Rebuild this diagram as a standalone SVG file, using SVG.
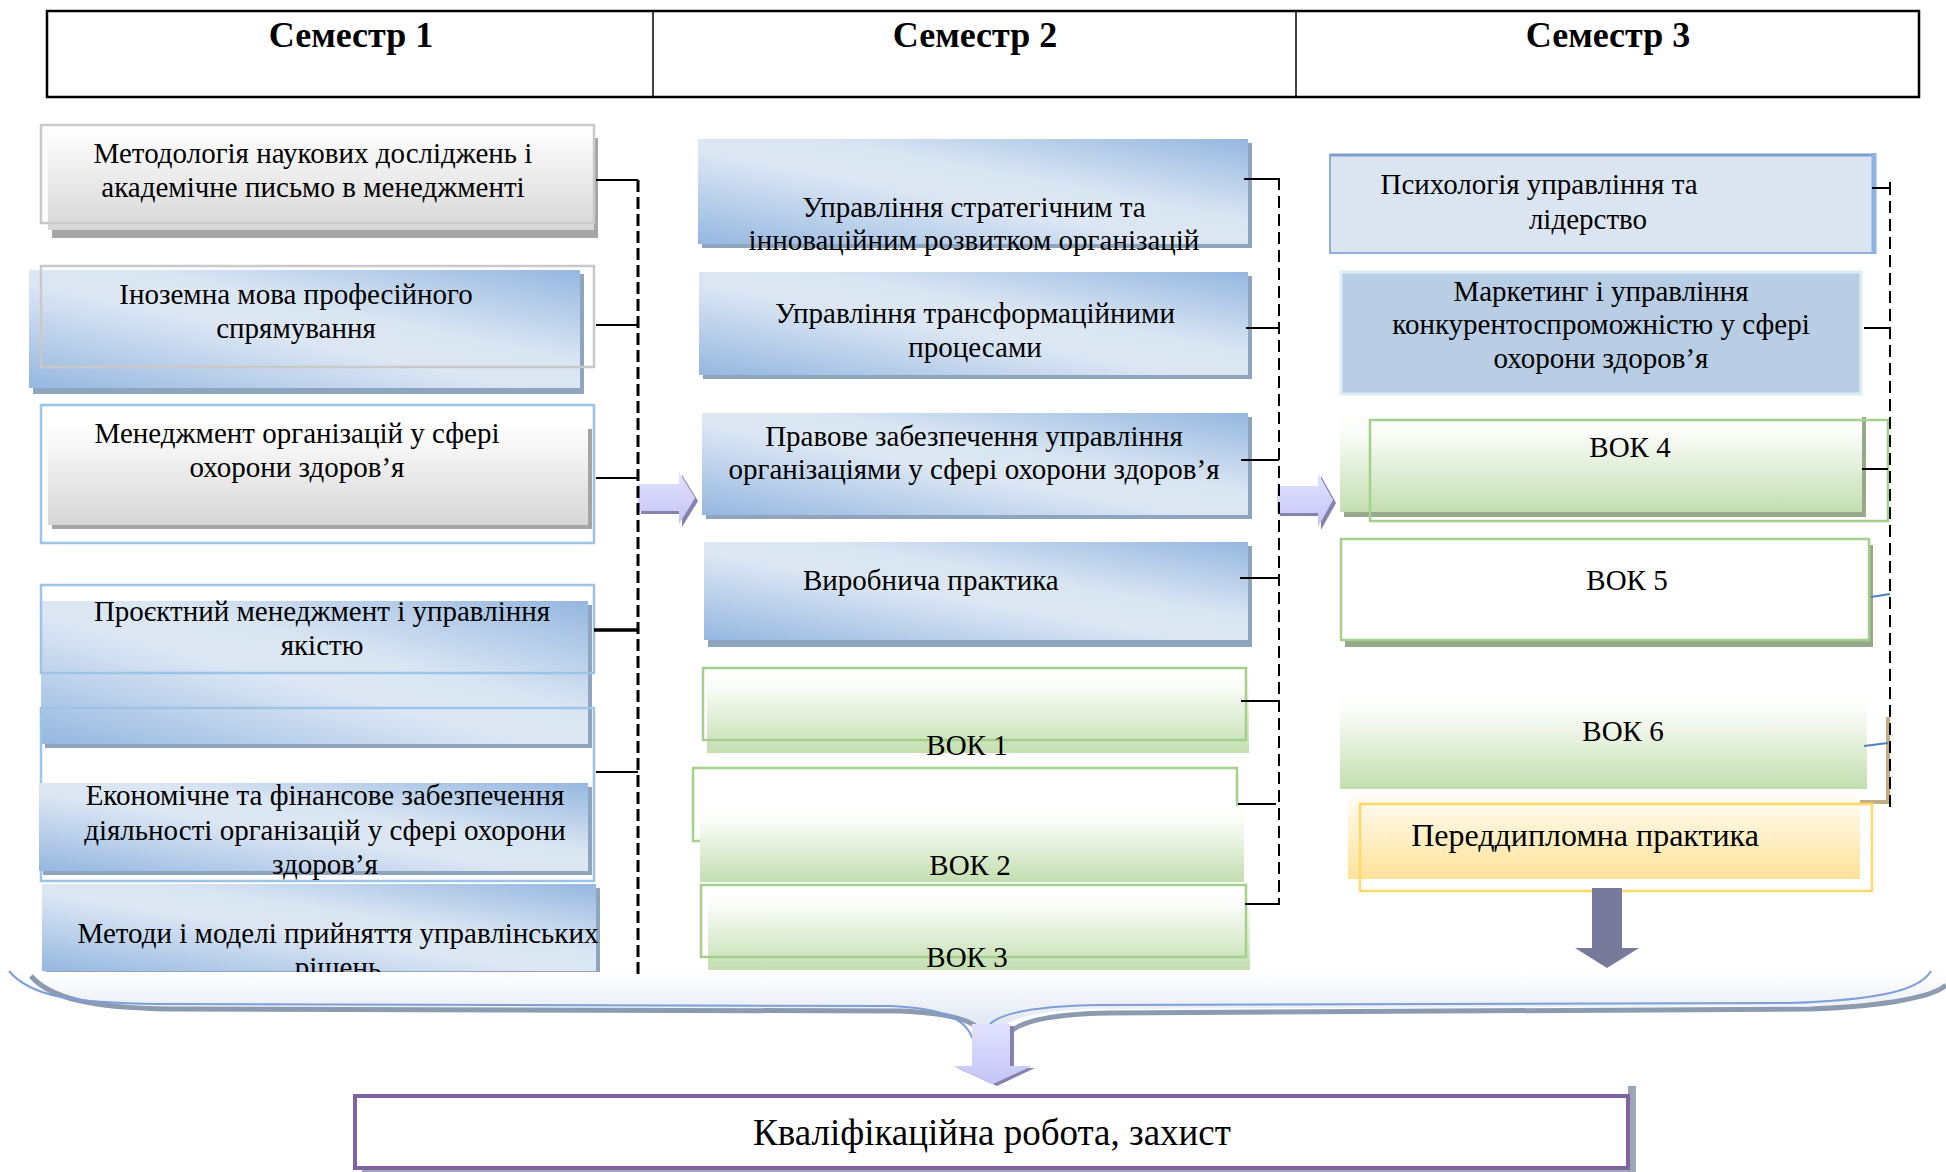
<svg xmlns="http://www.w3.org/2000/svg" width="1946" height="1172" viewBox="0 0 1946 1172">
<defs>
<linearGradient id="gBlue" x1="0" y1="1" x2="1" y2="0">
<stop offset="0" stop-color="#95b7e0"/>
<stop offset="0.45" stop-color="#dde7f4"/>
<stop offset="0.6" stop-color="#dbe6f3"/>
<stop offset="1" stop-color="#95b7e0"/>
</linearGradient>
<linearGradient id="gGray" x1="0" y1="0" x2="0" y2="1">
<stop offset="0" stop-color="#ffffff"/>
<stop offset="1" stop-color="#d6d6d6"/>
</linearGradient>
<linearGradient id="gGreen" x1="0" y1="0" x2="0" y2="1">
<stop offset="0" stop-color="#ffffff"/>
<stop offset="0.2" stop-color="#fafcf8"/>
<stop offset="1" stop-color="#c3deb0"/>
</linearGradient>
<linearGradient id="gYellow" x1="0" y1="0" x2="0" y2="1">
<stop offset="0" stop-color="#fffdf7"/>
<stop offset="1" stop-color="#fde298"/>
</linearGradient>
<linearGradient id="gBrace" x1="0" y1="0" x2="0" y2="1">
<stop offset="0" stop-color="#ffffff"/>
<stop offset="1" stop-color="#dbe2f0"/>
</linearGradient>
<linearGradient id="gLav" x1="0" y1="0" x2="0" y2="1">
<stop offset="0" stop-color="#e2e2ff"/>
<stop offset="1" stop-color="#c4c4f6"/>
</linearGradient>
<style>
.t{font-family:"Liberation Serif","Times New Roman",serif;font-size:29px;fill:#000;text-anchor:middle}
.ts{font-family:"Liberation Serif","Times New Roman",serif;font-size:29px;fill:#000}
.h{font-family:"Liberation Serif","Times New Roman",serif;font-size:36px;font-weight:bold;fill:#000;text-anchor:middle}
.d1{stroke:#000;stroke-width:3;stroke-dasharray:12 5;fill:none}
.d2{stroke:#000;stroke-width:2;stroke-dasharray:12 6;fill:none}
.tk{stroke:#000;stroke-width:2;fill:none}
.tkb{stroke:#4f81bd;stroke-width:2;fill:none}
.shB{fill:#8fa5bd}
.shG{fill:#a5a5a5}
.shGr{fill:#98a88b}
.blue{fill:url(#gBlue)}
.gray{fill:url(#gGray)}
.green{fill:url(#gGreen)}
.olG{fill:none;stroke:#c9c9c9;stroke-width:2.5}
.olB{fill:none;stroke:#9dc3e6;stroke-width:2.5}
.olGr{fill:none;stroke:#a3d08a;stroke-width:2.5}
.lav{fill:url(#gLav)}
.lavS{fill:#8383ab}
</style>
</defs>

<g id="header">
<rect x="47" y="11" width="1872" height="86" fill="#fff" stroke="#000" stroke-width="2.5"/>
<line x1="653" y1="11" x2="653" y2="97" stroke="#000" stroke-width="1.5"/>
<line x1="1296" y1="11" x2="1296" y2="97" stroke="#000" stroke-width="1.5"/>
<text class="h" x="351" y="47">Семестр 1</text>
<text class="h" x="975" y="47">Семестр 2</text>
<text class="h" x="1608" y="47">Семестр 3</text>
</g>

<g id="n-metodolohiia">
<rect x="52" y="138" width="546" height="100" class="shG"/>
<rect x="48" y="130" width="546" height="100" class="gray"/>
<rect x="41" y="125" width="553" height="98" class="olG"/>
<text class="t" x="313" y="163">Методологія наукових досліджень і</text>
<text class="t" x="313" y="197">академічне письмо в менеджменті</text>
</g>

<g id="n-inozemna">
<rect x="33" y="274" width="551" height="120" class="shB"/>
<rect x="29" y="270" width="551" height="118" class="blue"/>
<rect x="41" y="266" width="553" height="101" class="olG"/>
<text class="t" x="296" y="304">Іноземна мова професійного</text>
<text class="t" x="296" y="338">спрямування</text>
</g>

<g id="n-menedzhment">
<rect x="41" y="405" width="553" height="138" fill="#fff" stroke="#9dc3e6" stroke-width="2.5"/>
<rect x="52" y="429" width="540" height="100" class="shG"/>
<rect x="48" y="425" width="540" height="100" class="gray"/>
<text class="t" x="297" y="443">Менеджмент організацій у сфері</text>
<text class="t" x="297" y="477">охорони здоров’я</text>
</g>

<g id="n-proektnyi">
<rect x="45" y="605" width="547" height="143" class="shB"/>
<rect x="41" y="601" width="547" height="143" class="blue"/>
<rect x="41" y="585" width="553" height="88" class="olB"/>
<rect x="41" y="708" width="553" height="173" class="olB"/>
<text class="t" x="322" y="621">Проєктний менеджмент і управління</text>
<text class="t" x="322" y="655">якістю</text>
</g>

<g id="n-ekonomichne">
<rect x="43" y="787" width="549" height="88" class="shB"/>
<rect x="39" y="783" width="549" height="88" class="blue"/>
<text class="t" x="325" y="805">Економічне та фінансове забезпечення</text>
<text class="t" x="325" y="840">діяльності організацій у сфері охорони</text>
<text class="t" x="325" y="874">здоров’я</text>
</g>

<g id="n-metody">
<rect x="46" y="888" width="554" height="87" class="shB"/>
<rect x="42" y="884" width="554" height="87" class="blue"/>
<text class="t" x="338" y="943">Методи і моделі прийняття управлінських</text>
<text class="t" x="338" y="977">рішень</text>
</g>

<g id="n-stratehichnyi">
<rect x="702" y="143" width="550" height="105" class="shB"/>
<rect x="698" y="139" width="550" height="105" class="blue"/>
<text class="t" x="974" y="217">Управління стратегічним та</text>
<text class="t" x="974" y="250">інноваційним розвитком організацій</text>
</g>

<g id="n-transformatsiini">
<rect x="703" y="276" width="549" height="103" class="shB"/>
<rect x="699" y="272" width="549" height="103" class="blue"/>
<text class="t" x="975" y="323">Управління трансформаційними</text>
<text class="t" x="975" y="357">процесами</text>
</g>

<g id="n-pravove">
<rect x="706" y="417" width="546" height="102" class="shB"/>
<rect x="702" y="413" width="546" height="102" class="blue"/>
<text class="t" x="974" y="446">Правове забезпечення управління</text>
<text class="t" x="974" y="479">організаціями у сфері охорони здоров’я</text>
</g>

<g id="n-vyrobnycha">
<rect x="708" y="546" width="544" height="101" class="shB"/>
<rect x="704" y="542" width="544" height="98" class="blue"/>
<text class="ts" x="803" y="590">Виробнича практика</text>
</g>

<g id="n-vok1">
<rect x="707" y="670" width="542" height="83" class="green"/>
<rect x="703" y="668" width="543" height="72" class="olGr"/>
<text class="t" x="967" y="755">ВОК 1</text>
</g>

<g id="n-vok2">
<rect x="693" y="768" width="544" height="73" fill="#fff" stroke="#a3d08a" stroke-width="2.5"/>
<rect x="700" y="806" width="544" height="76" class="green"/>
<text class="t" x="970" y="875">ВОК 2</text>
</g>

<g id="n-vok3">
<rect x="708" y="890" width="542" height="80" class="green"/>
<rect x="701" y="885" width="545" height="72" class="olGr"/>
<text class="t" x="967" y="967">ВОК 3</text>
</g>

<g id="n-psykholohiia">
<rect x="1330" y="155" width="545" height="98" fill="#dbe5f1" stroke="#8fb0da" stroke-width="2"/>
<line x1="1330" y1="155" x2="1876" y2="155" stroke="#7f9fcb" stroke-width="3"/>
<line x1="1874" y1="153" x2="1874" y2="254" stroke="#8db3e2" stroke-width="5"/>
<text class="t" x="1539" y="194">Психологія управління та</text>
<text class="t" x="1588" y="229">лідерство</text>
</g>

<g id="n-marketynh">
<rect x="1341" y="272" width="520" height="122" fill="#b9cde5" stroke="#dbeef4" stroke-width="3"/>
<text class="t" x="1601" y="301">Маркетинг і управління</text>
<text class="t" x="1601" y="334">конкурентоспроможністю у сфері</text>
<text class="t" x="1601" y="368">охорони здоров’я</text>
</g>

<g id="n-vok4">
<rect x="1344" y="417" width="522" height="100" class="shGr"/>
<rect x="1340" y="413" width="522" height="99" class="green"/>
<rect x="1370" y="420" width="518" height="101" class="olGr"/>
<text class="t" x="1630" y="457">ВОК 4</text>
</g>

<g id="n-vok5">
<rect x="1345" y="545" width="528" height="102" class="shGr"/>
<rect x="1341" y="539" width="528" height="101" fill="#fff" stroke="#a3d08a" stroke-width="2.5"/>
<text class="t" x="1627" y="590">ВОК 5</text>
</g>

<g id="n-vok6">
<rect x="1340" y="693" width="527" height="96" class="green"/>
<text class="t" x="1623" y="741">ВОК 6</text>
</g>

<g id="n-pereddyplomna">
<path d="M1888,717 L1888,802 L1860,802" fill="none" stroke="#c2ad86" stroke-width="4"/>
<rect x="1348" y="793" width="512" height="86" fill="url(#gYellow)"/>
<rect x="1360" y="804" width="512" height="87" fill="none" stroke="#ffd966" stroke-width="2.5"/>
<text class="t" x="1585" y="846" style="font-size:32px">Переддипломна практика</text>
</g>

<g id="brace">
<path d="M12,972 L1946,972 L1946,986 C1900,1002 1850,1005 1790,1006 L1090,1009 C1035,1011 1005,1018 993,1036 C980,1018 950,1010 895,1009 L150,1007 C80,1005 30,995 12,972 Z" fill="url(#gBrace)"/>
<path d="M31,976 C50,998 90,1008 170,1009 L900,1011 C950,1013 972,1020 980,1030 M1010,1032 C1022,1021 1050,1014 1110,1013 L1810,1009 C1890,1006 1935,996 1946,985" fill="none" stroke="#8d9bb1" stroke-width="5"/>
<path d="M9,971 C30,996 70,1003 160,1004 L890,1006 C940,1008 966,1018 972,1038 M990,1024 C1002,1012 1040,1006 1100,1005 L1790,1003 C1880,1000 1920,990 1931,971" fill="none" stroke="#7c9fd9" stroke-width="2"/>
</g>

<g id="connectors">
<path class="lavS" d="M641,487 L682,487 L682,475 L698,501 L682,527 L682,514 L641,514 Z"/>
<path class="lav" d="M638,484 L679,484 L679,472 L695,498 L679,524 L679,511 L638,511 Z"/>
<path class="lavS" d="M1280,489 L1321,489 L1321,476 L1336,503 L1321,530 L1321,516 L1280,516 Z"/>
<path class="lav" d="M1277,486 L1318,486 L1318,473 L1333,500 L1318,527 L1318,513 L1277,513 Z"/>

<line class="d1" x1="638" y1="180" x2="638" y2="977"/>
<line class="tk" x1="596" y1="180" x2="638" y2="180"/>
<line class="tk" x1="596" y1="325" x2="638" y2="325"/>
<line class="tk" x1="596" y1="478" x2="638" y2="478"/>
<line x1="594" y1="630" x2="638" y2="630" stroke="#000" stroke-width="3.5"/>
<line class="tk" x1="596" y1="772" x2="638" y2="772"/>

<line class="d2" x1="1279" y1="178" x2="1279" y2="905"/>
<line class="tk" x1="1244" y1="179" x2="1279" y2="179"/>
<line class="tk" x1="1246" y1="328" x2="1279" y2="328"/>
<line class="tk" x1="1241" y1="460" x2="1279" y2="460"/>
<line class="tk" x1="1240" y1="578" x2="1279" y2="578"/>
<line class="tk" x1="1241" y1="701" x2="1279" y2="701"/>
<line class="tk" x1="1238" y1="804" x2="1276" y2="804"/>
<line class="tk" x1="1245" y1="904" x2="1279" y2="904"/>

<line class="d2" x1="1890" y1="183" x2="1890" y2="807" stroke-width="2.5"/>
<path class="tk" d="M1872,188 L1890,188 M1890,182 L1890,194"/>
<line class="tk" x1="1864" y1="328" x2="1890" y2="328"/>
<line class="tk" x1="1862" y1="469" x2="1888" y2="469"/>
<line class="tkb" x1="1871" y1="597" x2="1890" y2="594"/>
<line class="tkb" x1="1864" y1="746" x2="1888" y2="743"/>

<path d="M1592,888 L1622,888 L1622,948 L1639,948 L1607,968 L1575,948 L1592,948 Z" fill="#787a9c"/>

<path class="lavS" d="M976,1026 L1014,1026 L1014,1068 L1035,1068 L997,1086 L957,1068 L976,1068 Z"/>
<path class="lav" d="M972,1024 L1010,1024 L1010,1066 L1032,1066 L993,1084 L953,1066 L972,1066 Z"/>
</g>

<g id="n-kvalifikatsiina">
<rect x="1628" y="1086" width="8" height="86" fill="#9ba6b6"/>
<rect x="362" y="1168" width="1274" height="4" fill="#9ba6b6"/>
<rect x="355" y="1096" width="1273" height="72" fill="#fff" stroke="#8064a2" stroke-width="4"/>
<text class="t" x="992" y="1145" style="font-size:37px">Кваліфікаційна робота, захист</text>
</g>
</svg>
